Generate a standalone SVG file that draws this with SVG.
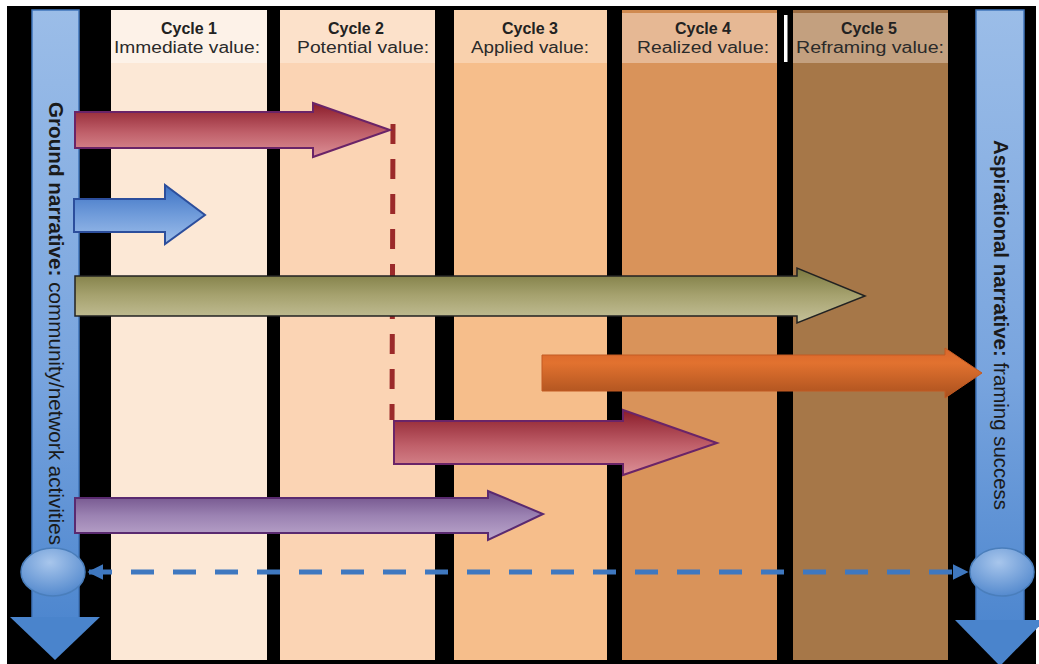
<svg xmlns="http://www.w3.org/2000/svg" width="1039" height="664" viewBox="0 0 1039 664">
<defs>
<linearGradient id="gRed" x1="0" y1="0" x2="0" y2="1"><stop offset="0" stop-color="#8A1C2A"/><stop offset="0.55" stop-color="#C0606A"/><stop offset="1" stop-color="#DC9096"/></linearGradient>
<linearGradient id="gBlueA" x1="0" y1="0" x2="0" y2="1"><stop offset="0" stop-color="#3D72C4"/><stop offset="0.5" stop-color="#6F9BDA"/><stop offset="1" stop-color="#9FBFEB"/></linearGradient>
<linearGradient id="gOlive" x1="0" y1="0" x2="0" y2="1"><stop offset="0" stop-color="#7A783F"/><stop offset="0.5" stop-color="#A6A26F"/><stop offset="1" stop-color="#C6C29A"/></linearGradient>
<linearGradient id="gOrange" x1="0" y1="0" x2="0" y2="1"><stop offset="0" stop-color="#D9662C"/><stop offset="0.3" stop-color="#E2722F"/><stop offset="1" stop-color="#A9501E"/></linearGradient>
<linearGradient id="gPurple" x1="0" y1="0" x2="0" y2="1"><stop offset="0" stop-color="#6C4C86"/><stop offset="0.5" stop-color="#9B82B2"/><stop offset="1" stop-color="#BCA7CC"/></linearGradient>
<linearGradient id="gShaft" x1="0" y1="0" x2="0" y2="1"><stop offset="0" stop-color="#9BBDE8"/><stop offset="0.6" stop-color="#78A4DE"/><stop offset="1" stop-color="#4E87CF"/></linearGradient>
<radialGradient id="gEll" cx="0.45" cy="0.3" r="0.75"><stop offset="0" stop-color="#A8C6EC"/><stop offset="1" stop-color="#4F86CC"/></radialGradient>
<marker id="mBlue" viewBox="0 0 10 10" refX="9" refY="5" markerWidth="3.2" markerHeight="3.2" orient="auto-start-reverse" markerUnits="strokeWidth"><path d="M0,0 L10,5 L0,10 z" fill="#3F78C0"/></marker>
</defs>
<style>
.hdrB{font-family:"Liberation Sans",Arial,sans-serif;font-weight:bold;font-size:16px;fill:#222}
.hdr{font-family:"Liberation Sans",Arial,sans-serif;font-size:16px;fill:#2a2a2a}
.vt{font-family:"Liberation Sans",Arial,sans-serif;font-size:20px;fill:#1a1a1a}
.b{font-weight:bold}
.shaft{fill:url(#gShaft);stroke:#3F74BA;stroke-width:1.5}
.head{fill:#4A84CC}
.ell{fill:url(#gEll);stroke:#4A7EBB;stroke-width:1.5}
</style>
<rect x="0" y="0" width="1039" height="664" fill="#ffffff"/>
<rect x="7" y="6" width="1029" height="658" fill="#000000"/>

<g id="cycle1">
<rect x="111" y="10" width="156" height="650" fill="#FCE8D6"/>
<rect x="111" y="10" width="156" height="53" fill="#FDF2E8"/>
<text class="hdrB" x="189" y="34" text-anchor="middle">Cycle 1</text>
<text class="hdr" x="187" y="53" text-anchor="middle" textLength="146" lengthAdjust="spacingAndGlyphs">Immediate value:</text>
</g>
<g id="cycle2">
<rect x="280" y="10" width="155" height="650" fill="#FBD4B4"/>
<rect x="280" y="10" width="155" height="53" fill="#FCE1CA"/>
<text class="hdrB" x="356" y="34" text-anchor="middle">Cycle 2</text>
<text class="hdr" x="363" y="53" text-anchor="middle" textLength="132" lengthAdjust="spacingAndGlyphs">Potential value:</text>
</g>
<g id="cycle3">
<rect x="454" y="10" width="153" height="650" fill="#F6BE8B"/>
<rect x="454" y="10" width="153" height="53" fill="#F9D1AD"/>
<text class="hdrB" x="530" y="34" text-anchor="middle">Cycle 3</text>
<text class="hdr" x="530" y="53" text-anchor="middle" textLength="118" lengthAdjust="spacingAndGlyphs">Applied value:</text>
</g>
<g id="cycle4">
<rect x="622" y="10" width="155" height="650" fill="#D9935A"/>
<rect x="622" y="10" width="155" height="53" fill="#E6B894"/>
<rect x="622" y="10" width="155" height="3" fill="#D08A50"/>
<text class="hdrB" x="703" y="34" text-anchor="middle">Cycle 4</text>
<text class="hdr" x="703" y="53" text-anchor="middle" textLength="132" lengthAdjust="spacingAndGlyphs">Realized value:</text>
</g>
<rect x="784" y="15" width="3.5" height="47" fill="#ffffff"/>
<g id="cycle5">
<rect x="793" y="10" width="155" height="650" fill="#A67748"/>
<rect x="793" y="10" width="155" height="53" fill="#C3A07F"/>
<rect x="793" y="10" width="155" height="3" fill="#A06F43"/>
<text class="hdrB" x="869" y="34" text-anchor="middle">Cycle 5</text>
<text class="hdr" x="870" y="53" text-anchor="middle" textLength="148" lengthAdjust="spacingAndGlyphs">Reframing value:</text>
</g>

<g id="ground-narrative">
<rect class="shaft" x="32" y="10" width="47" height="608"/>
<polygon class="head" points="10,617 100,617 55,660"/>
<text class="vt" transform="translate(49,102) rotate(90)" textLength="443" lengthAdjust="spacingAndGlyphs"><tspan class="b">Ground narrative: </tspan>community/network activities</text>
<ellipse id="ground-node" class="ell" cx="53" cy="572" rx="32" ry="24"/>
</g>

<g id="aspirational-narrative">
<rect class="shaft" x="976" y="10" width="48" height="612"/>
<polygon class="head" points="955,620 1045,620 1000,666"/>
<text class="vt" transform="translate(994,140) rotate(90)" textLength="370" lengthAdjust="spacingAndGlyphs"><tspan class="b">Aspirational narrative: </tspan>framing success</text>
<ellipse id="aspirational-node" class="ell" cx="1002" cy="572" rx="32" ry="24"/>
</g>

<g id="connectors">
<line x1="393" y1="124" x2="392" y2="420" stroke="#9B2A2A" stroke-width="5" stroke-dasharray="20 15"/>
<line x1="89" y1="572" x2="967" y2="572" stroke="#3F78C0" stroke-width="5" stroke-dasharray="23 19" marker-start="url(#mBlue)" marker-end="url(#mBlue)"/>
</g>

<g id="arrow-red-1">
<polygon points="75,112 313,112 313,103 390,130 313,157 313,148 75,148" fill="url(#gRed)" stroke="#6A2468" stroke-width="2" stroke-linejoin="miter"/>
</g>
<g id="arrow-blue">
<polygon points="74,199 165,199 165,185 205,215 165,244 165,232 74,232" fill="url(#gBlueA)" stroke="#2C4E9C" stroke-width="2"/>
</g>
<g id="arrow-olive">
<polygon points="75,276 797,276 797,268 865,296 797,323 797,316 75,316" fill="url(#gOlive)" stroke="#222222" stroke-width="1.5"/>
</g>
<g id="arrow-orange">
<polygon points="542,355 945,355 945,348 982,373 945,398 945,391 542,391" fill="url(#gOrange)" stroke="#C35A22" stroke-width="1"/>
</g>
<g id="arrow-red-2">
<polygon points="394,421 623,421 623,410 717,443 623,475 623,464 394,464" fill="url(#gRed)" stroke="#6A2468" stroke-width="2"/>
</g>
<g id="arrow-purple">
<polygon points="75,498 488,498 488,491 543,514 488,540 488,533 75,533" fill="url(#gPurple)" stroke="#5A2A70" stroke-width="2"/>
</g>
</svg>
